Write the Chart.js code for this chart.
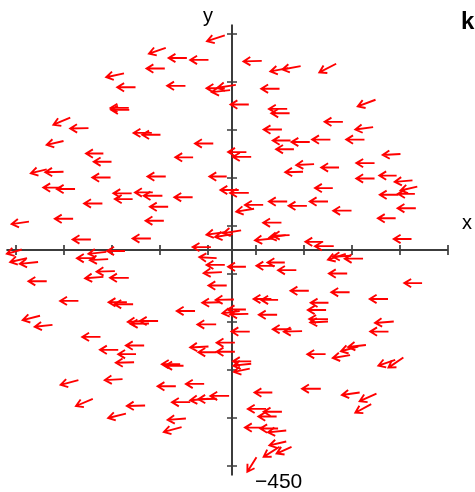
<!DOCTYPE html>
<html>
<head>
<meta charset="utf-8">
<script src="https://cdn.jsdelivr.net/npm/chart.js@4"></script>
<style>
html, body { margin: 0; padding: 0; background: #fff; }
#wrap { width: 475px; height: 492px; position: relative; }
</style>
</head>
<body>
<div id="wrap"><canvas id="field"></canvas></div>
<script>
// arrow tails (x, y) and vectors (u, v), all in data units
let xs = [-15, -138, -94, -49, -140, -225, -201, -97, -15, -4, 8, 35, -215, -214, -337, -299, -167, -149, -351, -39,
    62, 117, 143, 217, 99, 299, 115, 120, 231, 294, 104, 122, 162, 205, 276, 129, 30, 40, 351, 171,
    148, 223, 297, 297, 343, 376, 386, 381, 347, 210, 14, 35, 115, 156, 200, 65, 46, 249, 383, 341,
    103, -15, 2, 19, 85, 112, 120, 190, 212, 374, -386, -351, -268, -251, -81, -253, -138, -11, -355, -327,
    -209, -207, -165, -145, -82, -270, -133, -423, -331, -142, -294, -169, -44, -32, -438, -427, -404, -285, -262, -258,
    -223, -244, -268, -215, -386, -15, -21, 29, -11, -320, -219, -206, -77, -25, 4, 16, 29, 34, -33, -179,
    -173, -154, -400, -374, -274, -237, -183, -200, -204, -49, -32, 6, 6, -108, -101, 40, 40, 37, -320, -228,
    -117, -58, -290, -181, -87, -49, -32, -6, -221, -96, -105, 340, 357, 84, 185, 266, 301, 290, 71, 93,
    104, 65, 96, 113, 113, 99, 124, 51, 237, 248, 273, 240, 89, 110, 134, 396, 160, 245, 82, 96,
    325, 201, 196, 200, 200, 94, 124, 146, 37, 337, 326, 195, 246, 263, 279];
let ys = [447, 421, 400, 396, 378, 368, 339, 342, 337, 333, 344, 303, 296, 292, 276, 254, 244, 240, 227, 222,
    394, 379, 383, 388, 336, 313, 294, 285, 267, 256, 251, 228, 225, 230, 230, 210, 204, 194, 200, 179,
    163, 172, 181, 149, 155, 145, 132, 117, 115, 129, 125, 119, 101, 92, 101, 94, 86, 82, 87, 66,
    57, 37, 33, 41, 24, 31, 31, 17, 8, 23, 168, 163, 201, 184, 193, 151, 153, 153, 130, 127,
    118, 106, 120, 113, 110, 97, 90, 59, 65, 61, 22, 24, 6, -17, 1, -17, -25, -17, -4, -19,
    -2, -44, -56, -58, -65, -31, -46, -35, -74, -106, -109, -113, -127, -109, -103, -127, -124, -133, -155, -148,
    -153, -148, -137, -156, -181, -208, -199, -217, -234, -201, -213, -212, -193, -238, -241, -232, -237, -247, -271, -269,
    -284, -279, -310, -324, -317, -310, -310, -304, -341, -351, -369, -229, -224, -297, -289, -297, -299, -321, -331, -347,
    -337, -370, -372, -376, -399, -410, -410, -432, -8, -12, -18, -49, -33, -26, -42, -69, -85, -88, -102, -104,
    -102, -110, -125, -144, -149, -135, -165, -169, -170, -149, -170, -217, -219, -201, -198];
let us = [-37, -35, -38, -38, -38, -37, -38, -38, -38, -38, -38, -38, -38, -38, -35, -38, -38, -38, -35, -38,
    -38, -37, -38, -35, -38, -37, -38, -38, -38, -37, -38, -37, -38, -38, -38, -37, -38, -38, -37, -37,
    -37, -37, -38, -38, -36, -37, -35, -35, -39, -37, -38, -39, -38, -38, -38, -38, -37, -38, -38, -37,
    -38, -38, -37, -37, -37, -34, -35, -37, -39, -37, -33, -38, -36, -37, -37, -38, -38, -36, -38, -38,
    -38, -37, -37, -39, -38, -38, -38, -36, -38, -38, -38, -38, -38, -36, -31, -35, -38, -38, -37, -38,
    -37, -38, -38, -39, -38, -38, -38, -37, -38, -38, -38, -39, -38, -37, -38, -36, -38, -38, -39, -38,
    -38, -38, -36, -37, -38, -38, -38, -37, -38, -38, -38, -38, -38, -38, -38, -38, -37, -33, -37, -37,
    -38, -38, -35, -38, -38, -38, -38, -39, -37, -38, -37, -35, -31, -37, -39, -37, -35, -33, -38, -38,
    -38, -38, -37, -38, -35, -33, -31, -19, -37, -38, -38, -38, -38, -36, -38, -37, -38, -38, -37, -35,
    -38, -37, -38, -39, -37, -38, -39, -38, -38, -39, -38, -38, -36, -36, -37];
let vs = [-12, -12, 0, 0, 0, -8, 0, 0, 0, -4, -6, 0, 0, 0, -15, -1, 0, 0, -8, 0,
    -1, -7, -7, -18, 0, -14, 0, 0, 0, -5, 0, 0, 0, 0, 0, 0, 0, 0, -2, -2,
    -1, 0, 0, 0, 0, -3, -8, 0, 0, 0, 0, 0, 0, 0, 0, 0, -6, 0, 0, 0,
    0, -5, -6, -6, -4, -5, -1, 0, 0, 0, -8, -1, 0, 0, 0, 0, 0, 0, 0, 0,
    0, 0, 0, 0, 0, 0, 0, -5, 0, 0, 0, 0, 0, 2, -9, -8, -4, 0, -4, -2,
    0, -1, -3, 0, 0, 0, -2, 0, 0, 0, 0, 0, 0, -1, -1, -5, 0, -1, 0, -2,
    -1, 0, -9, -4, 0, 0, 0, 0, -1, -2, 0, 0, 0, 0, 0, 0, -4, -7, -10, -2,
    0, 0, -15, -1, 0, -3, -1, 0, -9, -3, -10, -12, -21, 0, 0, -5, -16, -18, 0, 0,
    0, 0, 0, -4, -8, -21, -14, -30, -12, -2, 0, 0, 0, 0, 0, 0, 0, 0, 0, 0,
    0, 0, 0, 0, -2, 0, 0, -1, 0, -3, 0, 0, -6, -10, -4];

let axisTicks = [-450, -350, -250, -150, -50, 50, 150, 250, 350, 450];
let yLabelTicks = [-450];
let yLabelTexts = ['\u2212450'];

const font = '"Liberation Sans", Arial, sans-serif';

let points = xs.map((x, i) => ({ x: x, y: ys[i], u: us[i], v: vs[i] }));

// axes through the origin, ticks crossing both sides
const axesPlugin = {
    id: 'axes',
    beforeDatasetsDraw(chart) {
        const ctx = chart.ctx;
        const sx = chart.scales.x, sy = chart.scales.y;
        const x0 = sx.getPixelForValue(0), y0 = sy.getPixelForValue(0);
        ctx.save();
        ctx.strokeStyle = '#3c3c3c';
        ctx.lineWidth = 2;
        ctx.beginPath();
        ctx.moveTo(sx.getPixelForValue(-470), y0);
        ctx.lineTo(sx.getPixelForValue(450), y0);
        ctx.moveTo(x0, sy.getPixelForValue(470));
        ctx.lineTo(x0, sy.getPixelForValue(-470));
        ctx.stroke();
        ctx.lineWidth = 1.7;
        ctx.beginPath();
        axisTicks.forEach(t => {
            let px = sx.getPixelForValue(t);
            ctx.moveTo(px, y0 - 5);
            ctx.lineTo(px, y0 + 5);
            let py = sy.getPixelForValue(t);
            ctx.moveTo(x0 - 5, py);
            ctx.lineTo(x0 + 5, py);
        });
        ctx.stroke();

        ctx.fillStyle = '#000';
        ctx.textAlign = 'left';
        ctx.textBaseline = 'alphabetic';
        ctx.font = '20px ' + font;
        ctx.fillText('y', x0 - 29, sy.getPixelForValue(470) - 2);
        ctx.fillText('x', sx.getPixelForValue(450) + 14, y0 - 21);
        ctx.font = '21px ' + font;
        yLabelTicks.forEach((t, i) => {
            ctx.fillText(yLabelTexts[i], x0 + 23, sy.getPixelForValue(t) + 22);
        });
        ctx.font = 'bold 24px ' + font;
        ctx.fillText('k', sx.getPixelForValue(450) + 13, 29);
        ctx.restore();
    }
};

// red arrows: line from tail to tail+vector, open head at the tip
const quiverPlugin = {
    id: 'quiver',
    afterDatasetsDraw(chart) {
        const ctx = chart.ctx;
        const sx = chart.scales.x, sy = chart.scales.y;
        ctx.save();
        ctx.strokeStyle = '#ff0000';
        ctx.lineWidth = 1.9;
        ctx.lineCap = 'butt';
        chart.data.datasets[0].data.forEach(p => {
            let tx = sx.getPixelForValue(p.x), ty = sy.getPixelForValue(p.y);
            let hx = sx.getPixelForValue(p.x + p.u), hy = sy.getPixelForValue(p.y + p.v);
            let ang = Math.atan2(hy - ty, hx - tx);
            let len = 8, spread = 0.55;
            ctx.beginPath();
            ctx.moveTo(tx, ty);
            ctx.lineTo(hx, hy);
            ctx.moveTo(hx + len * Math.cos(ang + Math.PI - spread), hy + len * Math.sin(ang + Math.PI - spread));
            ctx.lineTo(hx, hy);
            ctx.lineTo(hx + len * Math.cos(ang + Math.PI + spread), hy + len * Math.sin(ang + Math.PI + spread));
            ctx.stroke();
        });
        ctx.restore();
    }
};

new Chart(document.getElementById('field'), {
    type: 'scatter',
    data: {
        datasets: [{
            data: points,
            pointRadius: 0,
            showLine: false,
        }]
    },
    options: {
        responsive: true,
        maintainAspectRatio: false,
        animation: false,
        layout: { padding: { left: 6.4, right: 17.4, top: 24.4, bottom: 16.4 } },
        plugins: { legend: { display: false }, tooltip: { enabled: false } },
        scales: {
            x: { type: 'linear', min: -470, max: 470, display: false },
            y: { type: 'linear', min: -470, max: 470, display: false },
        },
    },
    plugins: [axesPlugin, quiverPlugin],
});
</script>
</body>
</html>
